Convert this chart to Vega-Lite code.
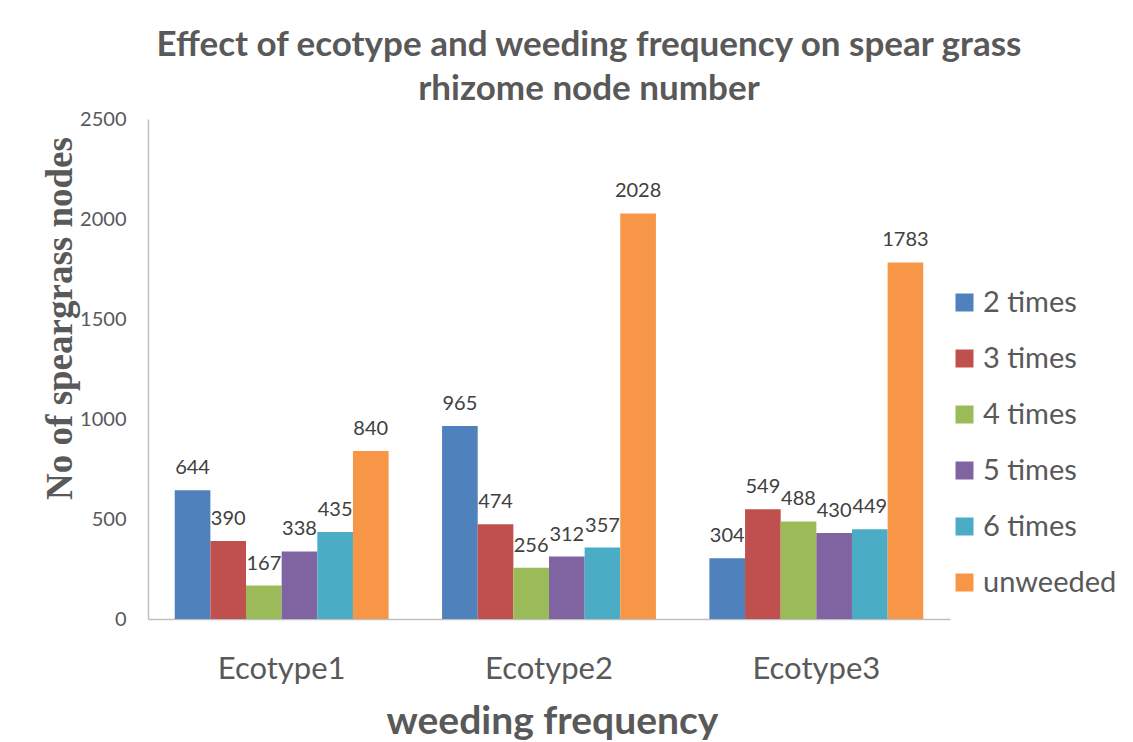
{
  "$schema": "https://vega.github.io/schema/vega-lite/v6.json",
  "width": 802,
  "height": 500,
  "autosize": {"type": "none"},
  "padding": {"left": 148, "top": 119, "right": 183, "bottom": 123},
  "background": "white",
  "config": {
    "view": {"stroke": null},
    "font": "Lato"
  },
  "title": {
    "text": ["Effect of ecotype and weeding frequency on spear grass", "rhizome node number"],
    "font": "Lato",
    "fontSize": 35,
    "fontWeight": "bold",
    "color": "#595959",
    "anchor": "middle",
    "frame": "group",
    "dx": 40,
    "lineHeight": 44,
    "offset": 2
  },
  "data": {
    "values": [
      {"ecotype": "Ecotype1", "freq": "2 times", "nodes": 644},
      {"ecotype": "Ecotype1", "freq": "3 times", "nodes": 390},
      {"ecotype": "Ecotype1", "freq": "4 times", "nodes": 167},
      {"ecotype": "Ecotype1", "freq": "5 times", "nodes": 338},
      {"ecotype": "Ecotype1", "freq": "6 times", "nodes": 435},
      {"ecotype": "Ecotype1", "freq": "unweeded", "nodes": 840},
      {"ecotype": "Ecotype2", "freq": "2 times", "nodes": 965},
      {"ecotype": "Ecotype2", "freq": "3 times", "nodes": 474},
      {"ecotype": "Ecotype2", "freq": "4 times", "nodes": 256},
      {"ecotype": "Ecotype2", "freq": "5 times", "nodes": 312},
      {"ecotype": "Ecotype2", "freq": "6 times", "nodes": 357},
      {"ecotype": "Ecotype2", "freq": "unweeded", "nodes": 2028},
      {"ecotype": "Ecotype3", "freq": "2 times", "nodes": 304},
      {"ecotype": "Ecotype3", "freq": "3 times", "nodes": 549},
      {"ecotype": "Ecotype3", "freq": "4 times", "nodes": 488},
      {"ecotype": "Ecotype3", "freq": "5 times", "nodes": 430},
      {"ecotype": "Ecotype3", "freq": "6 times", "nodes": 449},
      {"ecotype": "Ecotype3", "freq": "unweeded", "nodes": 1783}
    ]
  },
  "encoding": {
    "x": {
      "field": "ecotype",
      "type": "nominal",
      "scale": {"paddingInner": 0.2, "paddingOuter": 0.1},
      "axis": {
        "title": "weeding frequency",
        "titleFont": "Lato",
        "titleFontSize": 39,
        "titleFontWeight": "bold",
        "titleColor": "#595959",
        "titleX": 404,
        "titleY": 102,
        "titleBaseline": "middle",
        "titleAlign": "center",
        "labelAngle": 0,
        "labelFont": "Lato",
        "labelFontSize": 31,
        "labelColor": "#595959",
        "labelPadding": 35,
        "ticks": false,
        "domainColor": "#BFBFBF",
        "domainWidth": 1.5
      }
    },
    "xOffset": {"field": "freq", "type": "nominal", "sort": ["2 times", "3 times", "4 times", "5 times", "6 times", "unweeded"]},
    "y": {
      "field": "nodes",
      "type": "quantitative",
      "scale": {"domain": [0, 2500]},
      "axis": {
        "title": "No of speargrass nodes",
        "titleFont": "Liberation Serif",
        "titleFontSize": 37,
        "titleFontWeight": "bold",
        "titleColor": "#595959",
        "titleX": -88,
        "titleY": 199,
        "titleAngle": -90,
        "titleAlign": "center",
        "titleBaseline": "middle",
        "values": [0, 500, 1000, 1500, 2000, 2500],
        "format": "d",
        "grid": false,
        "ticks": false,
        "labelFont": "Lato",
        "labelFontSize": 20,
        "labelColor": "#595959",
        "labelPadding": 22,
        "domainColor": "#BFBFBF",
        "domainWidth": 1.5
      }
    }
  },
  "layer": [
    {
      "mark": {"type": "bar"},
      "encoding": {
        "color": {
          "field": "freq",
          "type": "nominal",
          "scale": {
            "domain": ["2 times", "3 times", "4 times", "5 times", "6 times", "unweeded"],
            "range": ["#4F81BD", "#C0504D", "#9BBB59", "#8064A2", "#4BACC6", "#F79646"]
          },
          "legend": {
            "title": null,
            "orient": "none",
            "legendX": 802,
            "legendY": 169,
            "symbolType": "square",
            "symbolSize": 324,
            "symbolStrokeWidth": 0,
            "labelFont": "Lato",
            "labelFontSize": 29,
            "labelColor": "#595959",
            "labelOffset": 4,
            "rowPadding": 26
          }
        }
      }
    },
    {
      "mark": {"type": "text", "baseline": "alphabetic", "dy": -16, "font": "Lato", "fontSize": 20, "color": "#404040"},
      "encoding": {
        "text": {"field": "nodes", "type": "quantitative"}
      }
    }
  ]
}
